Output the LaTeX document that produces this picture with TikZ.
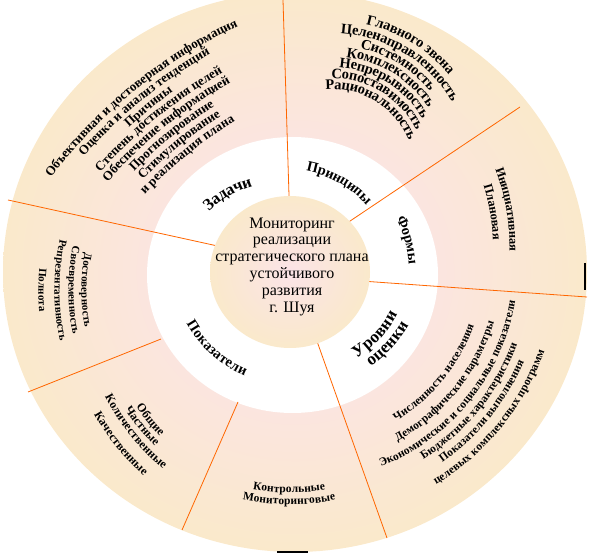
\documentclass[tikz,border=0pt]{standalone}
\usepackage{fontspec}
\setmainfont{Liberation Serif}
\usepackage{xcolor}
\usetikzlibrary{decorations.text}
\usetikzlibrary{math}
\definecolor{mybeige}{RGB}{250,233,203}
\definecolor{mypink}{RGB}{251,229,224}
\definecolor{mylilac}{RGB}{251,227,231}
\definecolor{myorange}{RGB}{255,102,0}

\pgfdeclareradialshading{ringshade}{\pgfpoint{0bp}{0bp}}{color(0bp)=(mypink); color(12bp)=(mypink); color(25bp)=(mybeige); color(50bp)=(mybeige)}

\tikzset{
curvetext/.style={decorate,decoration={text along path,text align=center,raise=-3.5pt,text={#1}}},
sector/.style={myorange,line width=\lw}
}

% font size, centre, radius, middle angle, text
\newcommand{\cwtext}[5]{\path[shift={#2},curvetext={|\bfseries\fontsize{#1}{#1}\selectfont|#5}] (#4+60:#3) arc[start angle=#4+60,end angle=#4-60,radius=#3];}
\newcommand{\ccwtext}[5]{\path[shift={#2},curvetext={|\bfseries\fontsize{#1}{#1}\selectfont|#5}] (#4-60:#3) arc[start angle=#4-60,end angle=#4+60,radius=#3];}

\begin{document}
\begin{tikzpicture}[x=1pt,y=1pt]
\tikzmath{
\lw=0.8;
}
\useasboundingbox (0,-553) rectangle (595,0);

\shade[shading=ringshade] (295,-272) ellipse [x radius=292,y radius=280];
\fill[white] (292.5,-275) ellipse [x radius=145.5,y radius=138];

\draw[sector] (283,0) -- (289.3,-205);
\draw[sector] (520,-107) -- (343.4,-225.5);
\draw[sector] (587,-297) -- (367,-281.4);
\draw[sector] (387,-538) -- (315.3,-336.5);
\draw[sector] (182,-530) -- (238,-402);
\draw[sector] (28,-392) -- (161,-339);
\draw[sector] (8,-200) -- (220.8,-246.7);

\shade[inner color=mylilac,outer color=mybeige] (290,-272) ellipse [x radius=80,y radius=76];
\node[align=center,font=\fontsize{16}{16.8}\selectfont] (mon) at (292,-266.5) {Мониторинг\\реализации\\стратегического плана\\устойчивого\\развития\\г. Шуя};

\draw[line width=1.5] (585,-263) -- (585,-290);
\draw[line width=2] (277,-552) -- (308,-552);

\cwtext{13}{(449,-478)}{502}{129}{Объективная и достоверная информация}
\cwtext{13}{(449,-478)}{490}{129}{Оценка и анализ тенденций}
\cwtext{13}{(449,-478)}{478}{129}{Причины}
\cwtext{13}{(449,-478)}{467}{129}{Степень достижения целей}
\cwtext{13}{(449,-478)}{455}{129}{Обеспечение информацией}
\cwtext{13}{(449,-478)}{443}{129}{Прогнозирование}
\cwtext{13}{(449,-478)}{431}{129}{Стимулирование}
\cwtext{13}{(449,-478)}{419}{129}{и реализация плана}

\cwtext{14.5}{(333,-171)}{154}{58.5}{Главного звена}
\cwtext{14.5}{(333,-171)}{141}{58.5}{Целенаправленность}
\cwtext{14.5}{(333,-171)}{129}{58.5}{Системность}
\cwtext{14.5}{(333,-171)}{118}{58.5}{Комплексность}
\cwtext{14.5}{(333,-171)}{107}{58.5}{Непрерывность}
\cwtext{14.5}{(333,-171)}{96}{58.5}{Сопоставимость}
\cwtext{14.5}{(333,-171)}{85}{58.5}{Рациональность}

\cwtext{12.5}{(289,-247)}{224}{9.8}{Инициативная}
\cwtext{12.5}{(289,-247)}{207.5}{9.8}{Плановая}

\cwtext{16.5}{(280,-284)}{105}{120}{Задачи}
\cwtext{14.5}{(286.5,-275.8)}{110}{60.4}{Принципы}
\cwtext{14.5}{(290,-272)}{122.5}{15.2}{Формы}
\ccwtext{17}{(297,-261.6)}{110}{-43}{Уровни}
\ccwtext{17}{(297,-261.6)}{125}{-42.3}{оценки}
\ccwtext{14.5}{(290,-266)}{115}{228.3}{Показатели}

\ccwtext{11.5}{(300,-264)}{181}{-39}{Численность населения}
\ccwtext{11.5}{(300,-264)}{199}{-39}{Демографические параметры}
\ccwtext{11.5}{(300,-264)}{215}{-39}{Экономические и социальные показатели}
\ccwtext{11.5}{(300,-264)}{228}{-39}{Бюджетные характеристики}
\ccwtext{11.5}{(300,-264)}{241}{-39}{Показатели выполнения}
\ccwtext{11.5}{(300,-264)}{256}{-39}{целевых комплексных программ}

\ccwtext{12}{(304,-295)}{198}{219}{Общие}
\ccwtext{12}{(304,-295)}{209}{219}{Частные}
\ccwtext{12}{(304,-295)}{220}{219}{Количественные}
\ccwtext{12}{(304,-295)}{238}{219}{Качественные}

\ccwtext{11}{(293,-290)}{251}{180}{Полнота}
\ccwtext{11}{(293,-290)}{235}{180}{Репрезентативность}
\ccwtext{11}{(293,-290)}{221}{180}{Своевременность}
\ccwtext{11}{(293,-290)}{208}{180}{Достоверность}

\ccwtext{11.5}{(289,-272)}{217}{270}{Контрольные}
\ccwtext{11.5}{(289,-272)}{229}{270}{Мониторинговые}
\end{tikzpicture}
\end{document}
